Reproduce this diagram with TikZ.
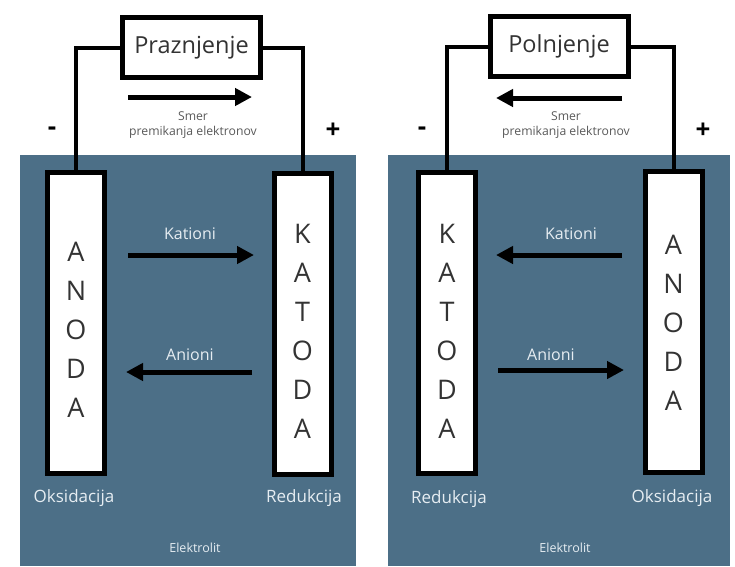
\documentclass[tikz,border=0pt]{standalone}
\usepackage{fontspec}
\setmainfont{Open Sans}
\usetikzlibrary{arrows.meta}

\definecolor{elyt}{RGB}{76,111,135}
\definecolor{onblue}{RGB}{230,237,242}

\tikzset{
  electrode/.style = {draw, line width=5pt, fill=white, minimum width=57pt, minimum height=301pt},
  letters/.style = {align=center, text=black!80, font=\fontsize{27}{39}\selectfont},
  loadbox/.style = {draw, line width=5pt, fill=white, minimum width=138pt, minimum height=60pt, font=\fontsize{23.5}{26}\selectfont, text=black!80},
  wire/.style = {line width=4pt},
  flow/.style = {line width=5pt, -{Triangle[length=17pt,width=17pt]}},
  bluelabel/.style = {text=onblue},
  ion/.style = {bluelabel, font=\fontsize{16}{18}\selectfont},
  side/.style = {bluelabel, font=\fontsize{17}{19}\selectfont},
  note/.style = {text=black!65, font=\fontsize{12.2}{15}\selectfont, align=center},
  pole/.style = {font=\bfseries\fontsize{26}{26}\selectfont}
}

\begin{document}
\begin{tikzpicture}[x=1pt, y=-1pt]
\useasboundingbox (0,0) rectangle (735,566);

\fill[elyt] (20,155) rectangle (356,566);
\fill[elyt] (388,155) rectangle (730,566);

% praznjenje
\node[electrode] (anL) at (76,322.5) {};
\node[electrode] (kaL) at (302.5,323.5) {};
\node[letters] at ([yshift=-7pt]anL.center) {A\\N\\O\\D\\A};
\node[letters] at ([yshift=-8pt]kaL.center) {K\\A\\T\\O\\D\\A};
\node[loadbox] (boxL) at (191.5,47.5) {Praznjenje};

\draw[wire] (anL.north) |- (boxL.west);
\draw[wire] (kaL.north) |- (boxL.east);

\coordinate (eL1) at (128,97);
\coordinate (eL2) at (252,97);
\draw[flow] (eL1) -- (eL2);
\node[note] (smerL) at (193,125) {Smer\\premikanja elektronov};
\node[pole] (minusL) at (52,131) {-};
\node[pole] (plusL) at (333,131) {+};

\coordinate (kL1) at (128,255);
\coordinate (kL2) at (254,255);
\draw[flow] (kL1) -- (kL2);
\node[ion] (katL) at (190,234) {Kationi};
\coordinate (aL1) at (252,372);
\coordinate (aL2) at (126,372);
\draw[flow] (aL1) -- (aL2);
\node[ion] (aniL) at (190,355) {Anioni};

\node[side] (oksL) at (74,498) {Oksidacija};
\node[side] (redL) at (304,498) {Redukcija};
\node[bluelabel, font=\fontsize{12.5}{14}\selectfont] (eltL) at (195,548) {Elektrolit};

% polnjenje
\node[electrode] (kaR) at (447,323) {};
\node[electrode] (anR) at (673.5,322) {};
\node[letters] at ([yshift=-8pt]kaR.center) {K\\A\\T\\O\\D\\A};
\node[letters] at ([yshift=-1pt]anR.center) {A\\N\\O\\D\\A};
\node[loadbox] (boxR) at (559,46.5) {Polnjenje};

\draw[wire] (kaR.north) |- (boxR.west);
\draw[wire] (anR.north) |- (boxR.east);

\coordinate (eR1) at (622,98);
\coordinate (eR2) at (496,98);
\draw[flow] (eR1) -- (eR2);
\node[note] (smerR) at (566,125) {Smer\\premikanja elektronov};
\node[pole] (minusR) at (422,131) {-};
\node[pole] (plusR) at (703,131) {+};

\coordinate (kR1) at (622,255);
\coordinate (kR2) at (496,255);
\draw[flow] (kR1) -- (kR2);
\node[ion] (katR) at (571,234) {Kationi};
\coordinate (aR1) at (498,370);
\coordinate (aR2) at (624,370);
\draw[flow] (aR1) -- (aR2);
\node[ion] (aniR) at (551,355) {Anioni};

\node[side] (redR) at (449,499) {Redukcija};
\node[side] (oksR) at (672,498) {Oksidacija};
\node[bluelabel, font=\fontsize{12.5}{14}\selectfont] (eltR) at (565,548) {Elektrolit};

\end{tikzpicture}
\end{document}
